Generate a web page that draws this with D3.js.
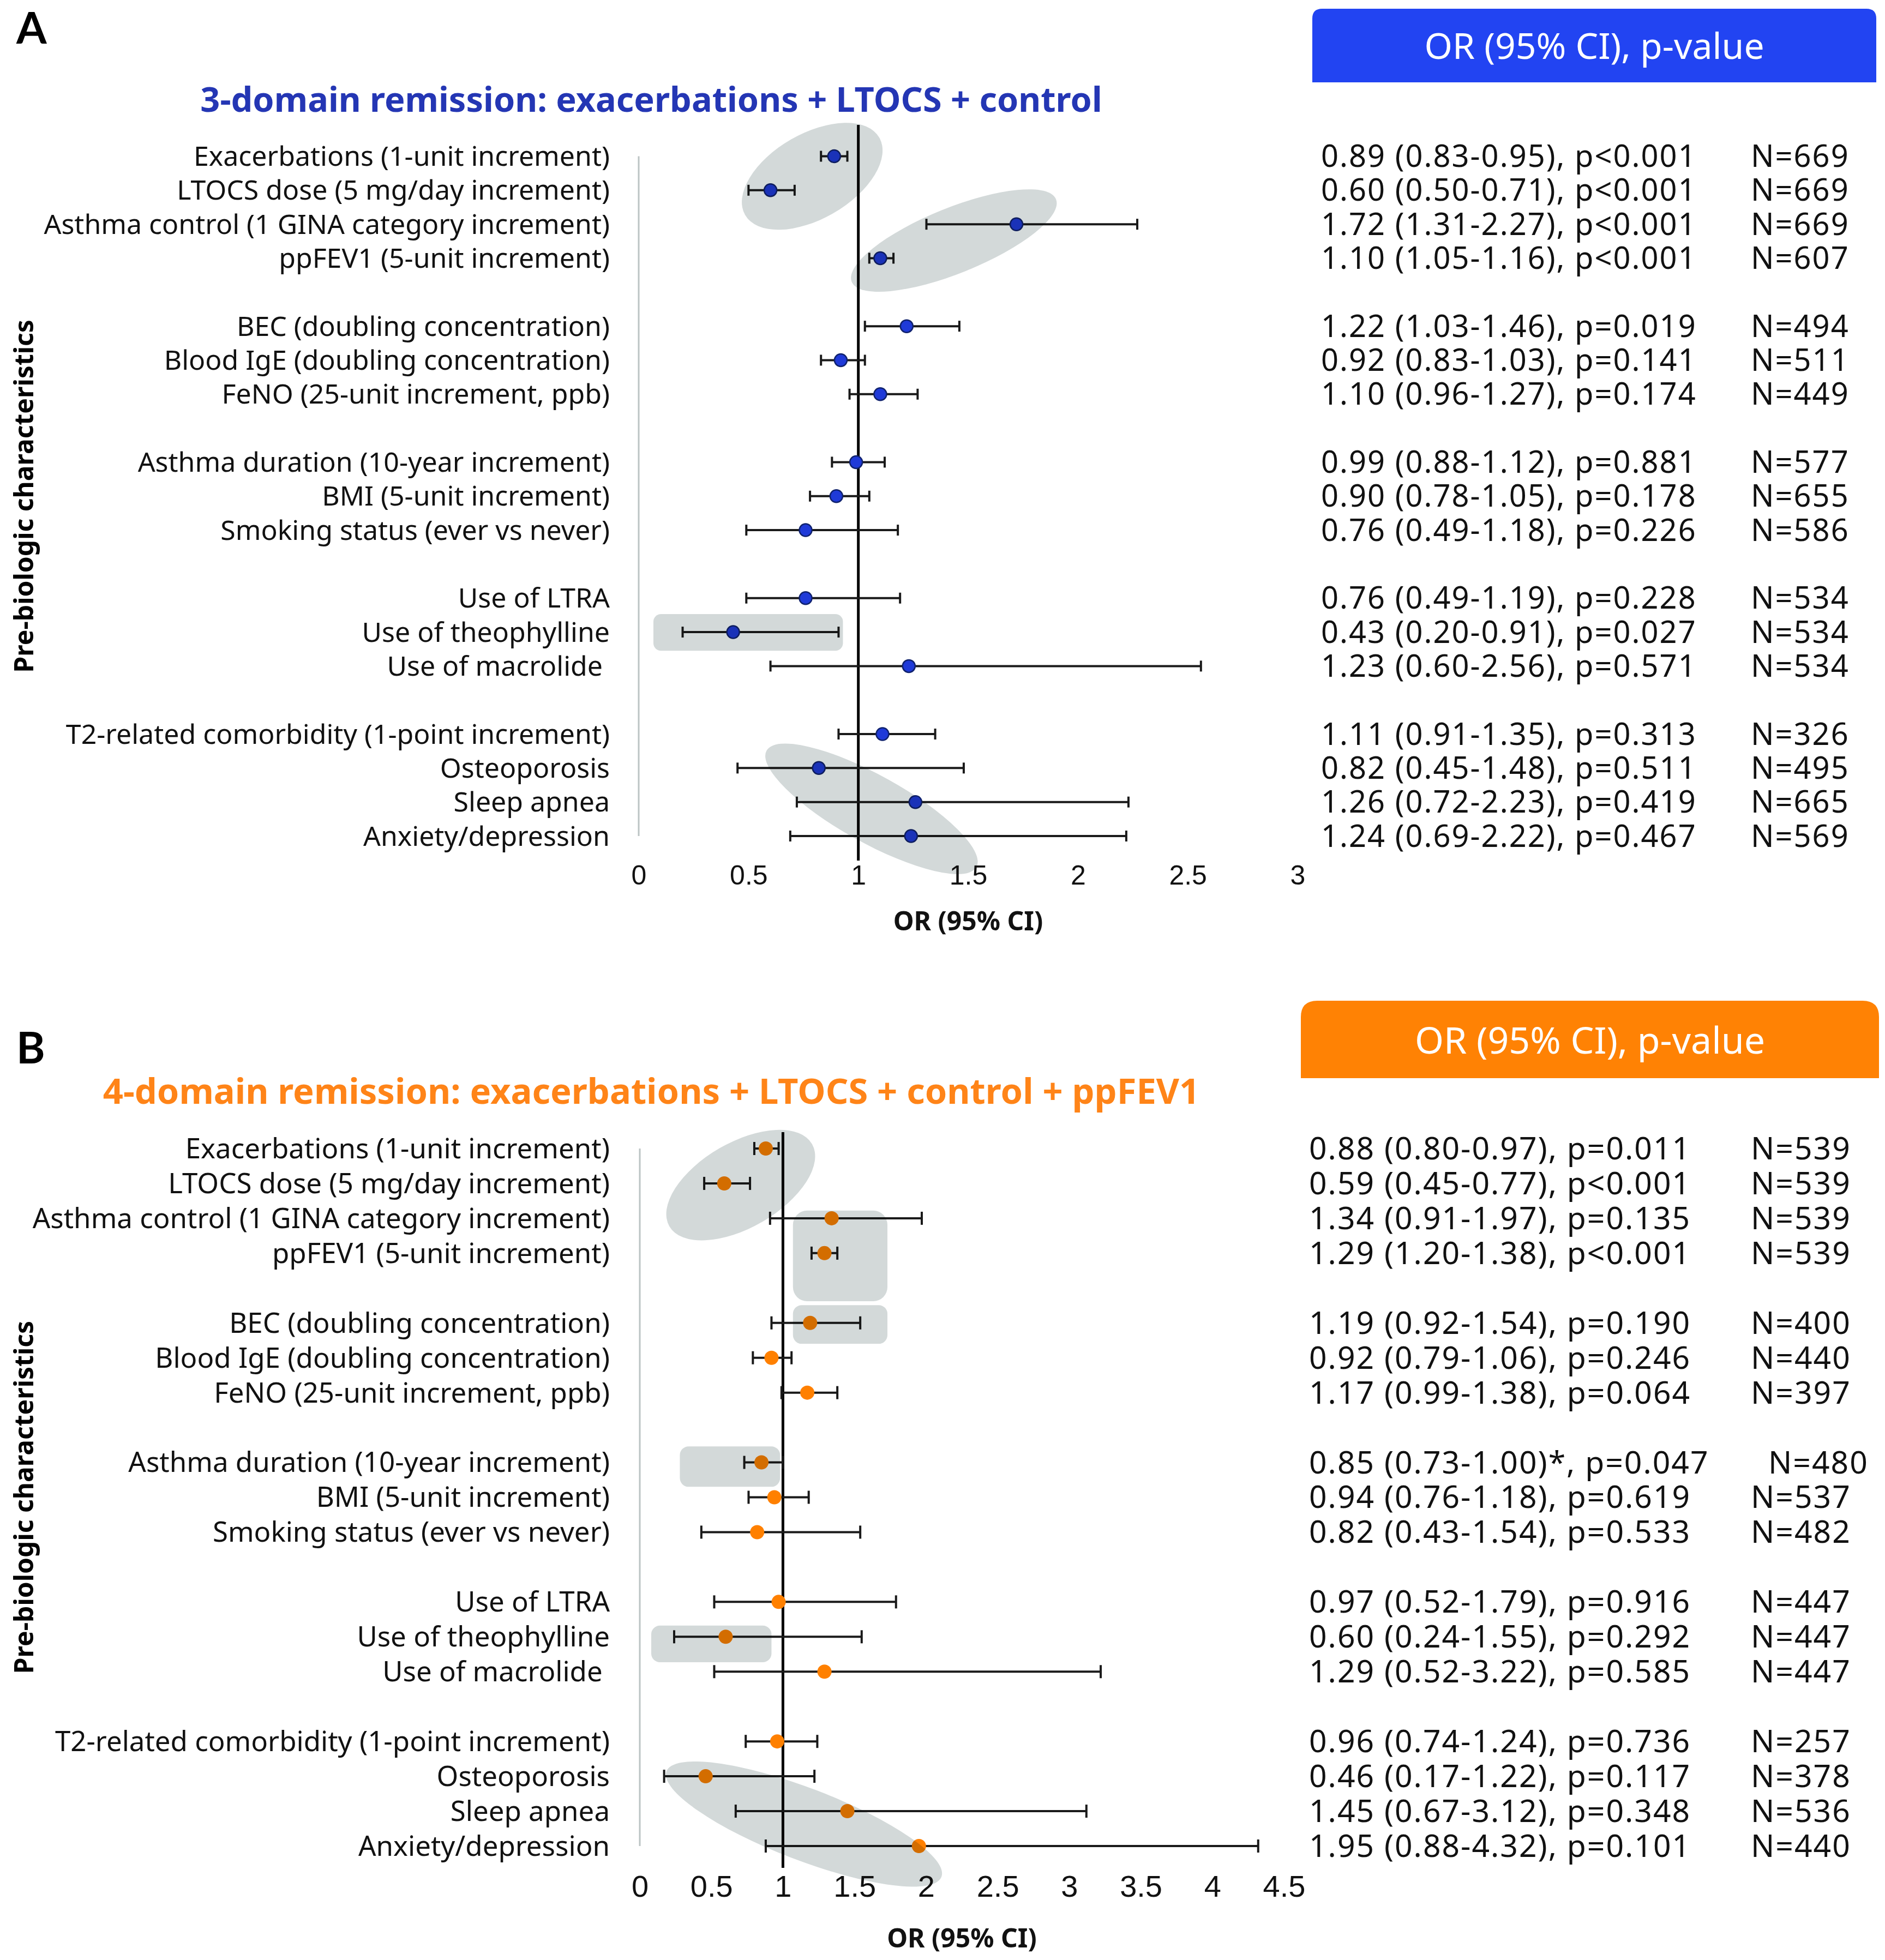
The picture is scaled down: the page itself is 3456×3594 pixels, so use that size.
<!DOCTYPE html>
<meta charset="utf-8">
<style>
body { margin: 0; background: #fff; }
svg { display: block; font-family: "Noto Sans", "Open Sans", sans-serif; }
.shade { fill: #d3d9d9; mix-blend-mode: multiply; }
.lab { fill: #111; text-anchor: end; }
.res { fill: #111; letter-spacing: 2px; }
</style>
<svg width="3456" height="3594"></svg>
<script src="https://d3js.org/d3.v7.min.js"></script>
<script>

// row labels (same for both panels)
var labels = [
  "Exacerbations (1-unit increment)",
  "LTOCS dose (5 mg/day increment)",
  "Asthma control (1 GINA category increment)",
  "ppFEV1 (5-unit increment)",
  "BEC (doubling concentration)",
  "Blood IgE (doubling concentration)",
  "FeNO (25-unit increment, ppb)",
  "Asthma duration (10-year increment)",
  "BMI (5-unit increment)",
  "Smoking status (ever vs never)",
  "Use of LTRA",
  "Use of theophylline",
  "Use of macrolide\u00a0",
  "T2-related comorbidity (1-point increment)",
  "Osteoporosis",
  "Sleep apnea",
  "Anxiety/depression"
];
// row slot of each label (gaps between groups)
var rows = [0, 1, 2, 3, 5, 6, 7, 9, 10, 11, 13, 14, 15, 17, 18, 19, 20];

// A: 3-domain remission
var orA = [0.89, 0.60, 1.72, 1.10, 1.22, 0.92, 1.10, 0.99, 0.90, 0.76, 0.76, 0.43, 1.23, 1.11, 0.82, 1.26, 1.24];
var loA = [0.83, 0.50, 1.31, 1.05, 1.03, 0.83, 0.96, 0.88, 0.78, 0.49, 0.49, 0.20, 0.60, 0.91, 0.45, 0.72, 0.69];
var hiA = [0.95, 0.71, 2.27, 1.16, 1.46, 1.03, 1.27, 1.12, 1.05, 1.18, 1.19, 0.91, 2.56, 1.35, 1.48, 2.23, 2.22];
var pA = ["p<0.001", "p<0.001", "p<0.001", "p<0.001", "p=0.019", "p=0.141", "p=0.174", "p=0.881", "p=0.178",
          "p=0.226", "p=0.228", "p=0.027", "p=0.571", "p=0.313", "p=0.511", "p=0.419", "p=0.467"];
var nA = [669, 669, 669, 607, 494, 511, 449, 577, 655, 586, 534, 534, 534, 326, 495, 665, 569];
var ticksA = [0, 0.5, 1, 1.5, 2, 2.5, 3];

// B: 4-domain remission
var orB = [0.88, 0.59, 1.34, 1.29, 1.19, 0.92, 1.17, 0.85, 0.94, 0.82, 0.97, 0.60, 1.29, 0.96, 0.46, 1.45, 1.95];
var loB = [0.80, 0.45, 0.91, 1.20, 0.92, 0.79, 0.99, 0.73, 0.76, 0.43, 0.52, 0.24, 0.52, 0.74, 0.17, 0.67, 0.88];
var hiB = [0.97, 0.77, 1.97, 1.38, 1.54, 1.06, 1.38, 1.00, 1.18, 1.54, 1.79, 1.55, 3.22, 1.24, 1.22, 3.12, 4.32];
var pB = ["p=0.011", "p<0.001", "p=0.135", "p<0.001", "p=0.190", "p=0.246", "p=0.064", "p=0.047", "p=0.619",
          "p=0.533", "p=0.916", "p=0.292", "p=0.585", "p=0.736", "p=0.117", "p=0.348", "p=0.101"];
var nB = [539, 539, 539, 539, 400, 440, 397, 480, 537, 482, 447, 447, 447, 257, 378, 536, 440];
var markB = ["", "", "", "", "", "", "", "*", "", "", "", "", "", "", "", "", ""];
var ticksB = [0, 0.5, 1, 1.5, 2, 2.5, 3, 3.5, 4, 4.5];

// grey highlight shapes, in data units (OR, row slot)
var shadesA = [
  {kind: "ellipse", or: 0.79, row: 0.59, rx: 142, ry: 78, angle: -30},
  {kind: "ellipse", or: 1.435, row: 2.48, rx: 202, ry: 60, angle: -22},
  {kind: "rect", or0: 0.067, or1: 0.93, row0: 13.47, row1: 14.55, r: 14},
  {kind: "ellipse", or: 1.06, row: 19.2, rx: 220, ry: 62, angle: 29}
];
var shadesB = [
  {kind: "ellipse", or: 0.705, row: 1.05, rx: 151, ry: 78, angle: -30},
  {kind: "rect", or0: 1.07, or1: 1.73, row0: 1.78, row1: 4.38, r: 26},
  {kind: "rect", or0: 1.07, or1: 1.73, row0: 4.49, row1: 5.6, r: 16},
  {kind: "rect", or0: 0.28, or1: 0.98, row0: 8.54, row1: 9.7, r: 16},
  {kind: "rect", or0: 0.08, or1: 0.92, row0: 13.68, row1: 14.73, r: 16},
  {kind: "ellipse", or: 1.147, row: 19.37, rx: 270, ry: 66, angle: 21}
];

var svg = d3.select("svg");
svg.append("rect").attr("width", 3456).attr("height", 3594).attr("fill", "#fff");

var panels = [
  {
    letter: "A", letterY: 80,
    title: "3-domain remission: exacerbations + LTOCS + control", titleColor: "#2436b4", titleY: 205, titleSize: 63,
    head: {x0: 2406, x1: 3440, y0: 16, y1: 151, r: 18, color: "#2244f2", textY: 108, size: 66},
    or: orA, lo: loA, hi: hiA, p: pA, n: nA, mark: null, ticks: ticksA,
    x: d3.scaleLinear().domain([0, 3]).range([1171, 2379]),
    y: d3.scaleLinear().domain([0, 20]).range([286.5, 1533]),
    refTop: 229, refBot: 1578, tickY: 1604, axisTitleY: 1689,
    resX: 2422, nX: 3210, resSize: 56, labSize: 50,
    dot: {r: 11.5, fill: "#1f3ad8", stroke: "#10226e", sw: 2.5}, cap: 10, barW: 4,
    shades: shadesA, tickSize: 50
  },
  {
    letter: "B", letterY: 1950,
    title: "4-domain remission: exacerbations + LTOCS + control + ppFEV1", titleColor: "#ff8418", titleY: 2024, titleSize: 65,
    head: {x0: 2385, x1: 3445, y0: 1835, y1: 1977, r: 30, color: "#ff8204", textY: 1932, size: 68},
    or: orB, lo: loB, hi: hiB, p: pB, n: nB, mark: markB, ticks: ticksB,
    x: d3.scaleLinear().domain([0, 4.5]).range([1173, 2354]),
    y: d3.scaleLinear().domain([0, 20]).range([2106, 3385]),
    refTop: 2076, refBot: 3425, tickY: 3458, axisTitleY: 3554,
    resX: 2400, nX: 3210, resSize: 57, labSize: 51,
    dot: {r: 13, fill: "#ff8000", stroke: "none", sw: 0}, cap: 12, barW: 4,
    shades: shadesB, tickSize: 56
  }
];

panels.forEach(drawPanel);

function drawPanel(P) {
  var g = svg.append("g");
  var x = P.x, y = P.y;

  g.append("text").text(P.letter)
      .attr("x", 30).attr("y", P.letterY)
      .style("font-family", "Lato, sans-serif")
      .style("font-size", "80px").style("font-weight", 700).attr("fill", "#000");

  g.append("text").text(P.title)
      .attr("x", 1194).attr("y", P.titleY)
      .attr("text-anchor", "middle")
      .style("font-size", P.titleSize + "px").style("font-weight", 700).attr("fill", P.titleColor);

  // header box with rounded top corners
  var h = P.head;
  g.append("path")
      .attr("d", "M" + h.x0 + "," + h.y1 + "V" + (h.y0 + h.r) +
        "Q" + h.x0 + "," + h.y0 + " " + (h.x0 + h.r) + "," + h.y0 +
        "H" + (h.x1 - h.r) + "Q" + h.x1 + "," + h.y0 + " " + h.x1 + "," + (h.y0 + h.r) +
        "V" + h.y1 + "Z")
      .attr("fill", h.color);
  g.append("text").text("OR (95% CI), p-value")
      .attr("x", (h.x0 + h.x1) / 2).attr("y", h.textY)
      .attr("text-anchor", "middle")
      .style("font-size", h.size + "px").attr("fill", "#fff");

  // vertical axis title
  g.append("text").text("Pre-biologic characteristics")
      .attr("transform", "translate(44," + y(10) + ") rotate(-90)")
      .attr("text-anchor", "middle").attr("dy", "0.35em")
      .style("font-size", "48px").style("font-weight", 700).attr("fill", "#000");

  // light grey y axis line at OR = 0
  g.append("line")
      .attr("x1", x(0)).attr("x2", x(0))
      .attr("y1", y(0)).attr("y2", y(20))
      .attr("stroke", "#bcc4c4").attr("stroke-width", 3);

  // reference line at OR = 1
  g.append("line")
      .attr("x1", x(1)).attr("x2", x(1))
      .attr("y1", P.refTop).attr("y2", P.refBot)
      .attr("stroke", "#000").attr("stroke-width", 5);

  // row labels
  g.selectAll(".lab").data(labels).enter().append("text")
      .attr("class", "lab")
      .attr("x", 1118)
      .attr("y", function(d, i) { return y(rows[i]); })
      .attr("dy", "0.35em")
      .style("font-size", P.labSize + "px")
      .text(function(d) { return d; });

  // error bars
  var bars = g.selectAll(".bar").data(P.or).enter().append("g").attr("class", "bar")
      .attr("stroke", "#1a1a1a").attr("stroke-width", P.barW);
  bars.append("line")
      .attr("x1", function(d, i) { return x(P.lo[i]); })
      .attr("x2", function(d, i) { return x(P.hi[i]); })
      .attr("y1", function(d, i) { return y(rows[i]); })
      .attr("y2", function(d, i) { return y(rows[i]); });
  ["lo", "hi"].forEach(function(k) {
    bars.append("line")
        .attr("x1", function(d, i) { return x(P[k][i]); })
        .attr("x2", function(d, i) { return x(P[k][i]); })
        .attr("y1", function(d, i) { return y(rows[i]) - P.cap; })
        .attr("y2", function(d, i) { return y(rows[i]) + P.cap; });
  });

  // points
  g.selectAll(".pt").data(P.or).enter().append("circle")
      .attr("class", "pt")
      .attr("cx", function(d) { return x(d); })
      .attr("cy", function(d, i) { return y(rows[i]); })
      .attr("r", P.dot.r)
      .attr("fill", P.dot.fill)
      .attr("stroke", P.dot.stroke).attr("stroke-width", P.dot.sw);

  // grey highlight shapes (multiply over the marks)
  P.shades.forEach(function(s) {
    if (s.kind == "ellipse") {
      g.append("ellipse").attr("class", "shade")
          .attr("transform", "translate(" + x(s.or) + "," + y(s.row) + ") rotate(" + s.angle + ")")
          .attr("rx", s.rx).attr("ry", s.ry);
    } else {
      g.append("rect").attr("class", "shade")
          .attr("x", x(s.or0)).attr("width", x(s.or1) - x(s.or0))
          .attr("y", y(s.row0)).attr("height", y(s.row1) - y(s.row0))
          .attr("rx", s.r).attr("ry", s.r);
    }
  });

  // x axis (labels only)
  var ax = g.append("g")
      .attr("transform", "translate(0," + P.tickY + ")")
      .call(d3.axisBottom(x).tickValues(P.ticks).tickSize(0).tickPadding(0)
        .tickFormat(function(d) { return String(d); }));
  ax.select(".domain").remove();
  ax.selectAll("text").attr("dy", "0.35em").attr("y", 0)
      .style("font-size", P.tickSize + "px").style("font-family", "inherit").attr("fill", "#111");

  g.append("text").text("OR (95% CI)")
      .attr("x", (x.range()[0] + x.range()[1]) / 2).attr("y", P.axisTitleY)
      .attr("text-anchor", "middle").attr("dy", "0.35em")
      .style("font-size", "48px").style("font-weight", 700).attr("fill", "#111");

  // results column
  var fmt = d3.format(".2f");
  g.selectAll(".res").data(P.or).enter().append("text")
      .attr("class", "res")
      .attr("x", P.resX)
      .attr("y", function(d, i) { return y(rows[i]); })
      .attr("dy", "0.35em")
      .style("font-size", P.resSize + "px")
      .text(function(d, i) {
        var m = P.mark ? P.mark[i] : "";
        return fmt(d) + " (" + fmt(P.lo[i]) + "-" + fmt(P.hi[i]) + ")" + m + ", " + P.p[i];
      });
  g.selectAll(".nn").data(P.n).enter().append("text")
      .attr("class", "res nn")
      .attr("x", function(d, i) { return P.mark && P.mark[i] ? P.nX + 32 : P.nX; })
      .attr("y", function(d, i) { return y(rows[i]); })
      .attr("dy", "0.35em")
      .style("font-size", P.resSize + "px")
      .text(function(d) { return "N=" + d; });
}

</script>
